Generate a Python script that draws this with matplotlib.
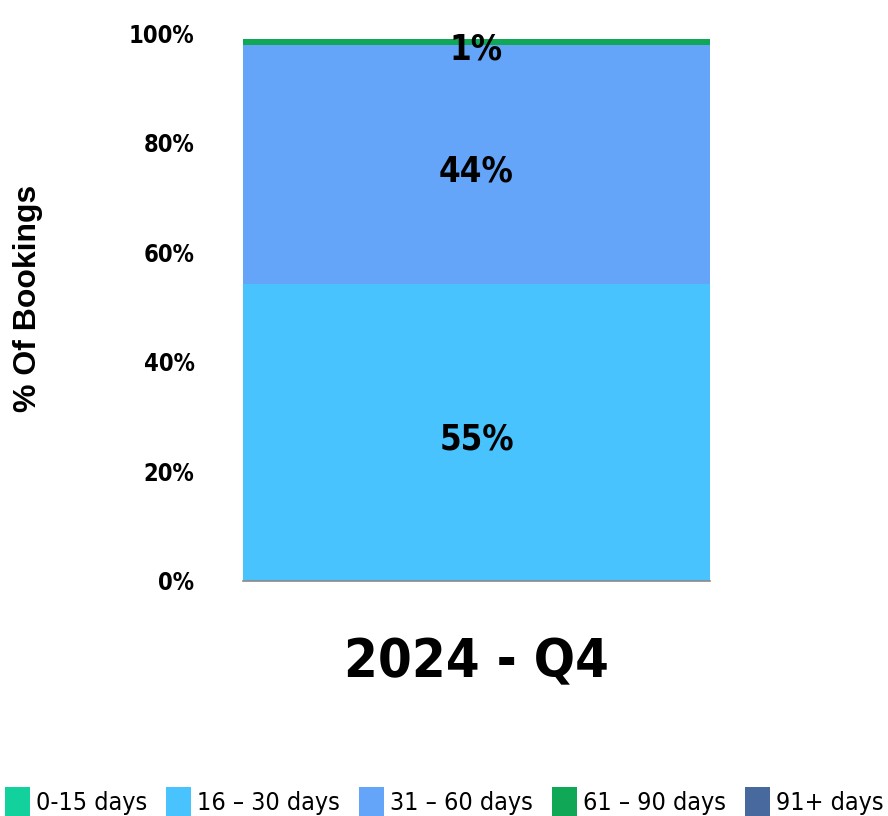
import matplotlib
matplotlib.use("Agg")
import matplotlib.pyplot as plt
from matplotlib.patches import Patch

categories = ["0-15 days", "16 – 30 days", "31 – 60 days", "61 – 90 days", "91+ days"]
values = [0.0, 54.2, 43.6, 1.1, 0.0]
bar_labels = ["", "55%", "44%", "1%", ""]
colors = ["#12D19C", "#48C3FE", "#64A5F9", "#10A856", "#48699E"]
period = ["2024 - Q4"]
yticks = [0, 20, 40, 60, 80, 100]

COND = dict(family="DejaVu Sans", stretch="condensed")

fig = plt.figure(figsize=(8.88, 8.16), dpi=100)
ax = fig.add_axes([243/888, 1-581/816, (710-243)/888, (581-33)/816])

bottom = 0.0
for cat, v, lab, c in zip(categories, values, bar_labels, colors):
    ax.bar(0, v, width=1.0, bottom=bottom, color=c, label=cat, linewidth=0)
    if lab:
        ax.annotate(lab, (0, bottom + v/2), xytext=(0, -2.5), textcoords="offset points",
                    ha="center", va="center_baseline",
                    fontsize=25, fontweight="bold", color="black", **COND)
    bottom += v

ax.set_xlim(-0.5, 0.5)
ax.set_ylim(0, 100)
ax.set_yticks(yticks)
ax.set_yticklabels([f"{t}%" for t in yticks], fontsize=17, fontweight="bold", **COND)
ax.set_xticks([0])
ax.set_xticklabels(period, fontsize=39, fontweight="bold", **COND)
ax.tick_params(axis="y", length=0, pad=35)
ax.tick_params(axis="x", length=0, pad=40)
for s in ["top", "right", "left"]:
    ax.spines[s].set_visible(False)
ax.spines["bottom"].set_color("#8a8a8a")
ax.spines["bottom"].set_linewidth(1.2)

fig.text(28/888, 1-298/816, "% Of Bookings", rotation=90, ha="center", va="center",
         fontsize=23, fontweight="bold", family="Liberation Sans")

handles = [Patch(facecolor=c, edgecolor="none") for c in colors]
leg = fig.legend(handles, categories, loc="center", bbox_to_anchor=(0.5, 1-802/816),
                 ncol=5, frameon=False, handlelength=1.0, handleheight=1.5,
                 handletextpad=0.25, columnspacing=0.75,
                 prop=dict(size=18, family="DejaVu Sans", stretch="condensed"))

fig.savefig("out.png", dpi=100)
